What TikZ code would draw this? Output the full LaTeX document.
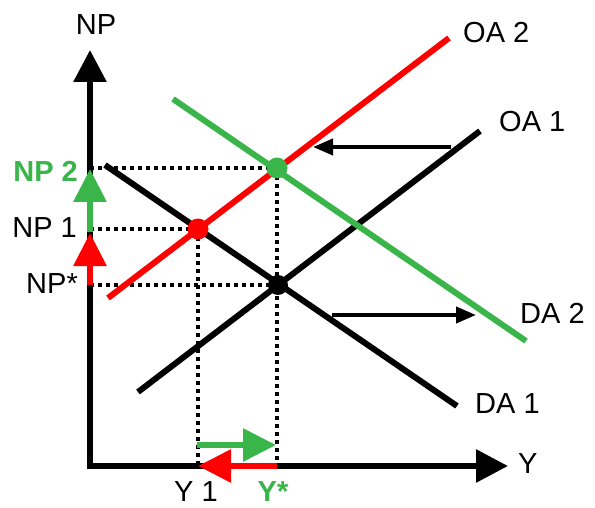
\documentclass[tikz,border=0pt]{standalone}
\usepackage{fontspec}
\setmainfont{Liberation Sans}
\usetikzlibrary{arrows.meta}
\definecolor{agreen}{RGB}{57,181,74}
\definecolor{ared}{RGB}{255,0,0}
\begin{document}
\begin{tikzpicture}[x=1pt,y=-1pt,
  lbl/.style={font=\fontsize{29}{34}\selectfont, inner sep=0pt},
  curve/.style={line width=6pt},
  guide/.style={line width=3.5pt, dash pattern=on 4pt off 4pt},
  axisline/.style={line width=6pt, {Triangle[length=32pt,width=32pt]}-{Triangle[length=32pt,width=32pt]}},
  bigarrow/.style={line width=6pt, -{Triangle[length=33pt,width=32pt]}},
  shiftarrow/.style={line width=4pt, -{Triangle[length=20pt,width=16pt]}},
  dot/.style={circle, inner sep=0pt, minimum size=#1}]
\useasboundingbox (0,0) rectangle (595,508);
% key points
\coordinate (O) at (90,466);
\coordinate (NPtip) at (90,50);
\coordinate (Ytip) at (508,466);
\coordinate (E0) at (278,285);
\coordinate (E1) at (198,229);
\coordinate (E2) at (277,168);
\coordinate (np2) at (90,168);
\coordinate (np1) at (90,229);
\coordinate (npstar) at (90,285);
\coordinate (y1) at (198,466);
\coordinate (ystar) at (277,466);
% guides
\draw[guide] (np2) -- (E2);
\draw[guide] (np1) -- (E1);
\draw[guide] (npstar) -- (E0);
\draw[guide] (E1) -- (y1);
\draw[guide] (E2) -- (ystar);
% curves
\coordinate (oa1a) at (138,392); \coordinate (oa1b) at (480,131);
\coordinate (oa2a) at (108,298); \coordinate (oa2b) at (449,38);
\coordinate (da1a) at (105,165); \coordinate (da1b) at (457,406);
\coordinate (da2a) at (173,99);  \coordinate (da2b) at (526,341);
\draw[curve] (oa1a) -- (oa1b);
\draw[curve] (da1a) -- (da1b);
\draw[curve, ared] (oa2a) -- (oa2b);
\draw[curve, agreen] (da2a) -- (da2b);
% equilibrium dots
\node[dot=20pt, fill=black] (d0) at (E0) {};
\node[dot=21pt, fill=ared] (d1) at (E1) {};
\node[dot=21pt, fill=agreen] (d2) at (E2) {};
% axes
\draw[axisline] (NPtip) -- (O) -- (Ytip);
% movement arrows
\coordinate (ga) at (197,445); \coordinate (gb) at (276,445);
\draw[bigarrow, agreen] (ga) -- (gb);
\coordinate (ra) at (277,466); \coordinate (rb) at (198,466);
\draw[bigarrow, ared] (ra) -- (rb);
\coordinate (gva) at (90,232); \coordinate (gvb) at (90,169);
\draw[bigarrow, agreen] (gva) -- (gvb);
\coordinate (rva) at (90,285); \coordinate (rvb) at (90,233);
\draw[bigarrow, ared] (rva) -- (rvb);
% shift arrows
\coordinate (sa) at (451,147); \coordinate (sb) at (313,147);
\draw[shiftarrow] (sa) -- (sb);
\coordinate (ta) at (332,315); \coordinate (tb) at (476,315);
\draw[shiftarrow] (ta) -- (tb);
% labels
\node[lbl, anchor=base] (lNP) at (96,35) {NP};
\node[lbl, anchor=base east, text=agreen, font=\fontsize{29}{34}\selectfont\bfseries] (lNP2) at (78,182) {NP 2};
\node[lbl, anchor=base east] (lNP1) at (77,238) {NP 1};
\node[lbl, anchor=base east] (lNPs) at (78,293) {NP*};
\node[lbl, anchor=base west] (lOA2) at (463,43) {OA 2};
\node[lbl, anchor=base west] (lOA1) at (499,132) {OA 1};
\node[lbl, anchor=base west] (lDA2) at (520,323) {DA 2};
\node[lbl, anchor=base west] (lDA1) at (475,413) {DA 1};
\node[lbl, anchor=base west] (lY) at (518,473) {Y};
\node[lbl, anchor=base] (lY1) at (196,501) {Y 1};
\node[lbl, anchor=base, text=agreen, font=\fontsize{29}{34}\selectfont\bfseries] (lYs) at (273,501) {Y*};
\end{tikzpicture}
\end{document}
